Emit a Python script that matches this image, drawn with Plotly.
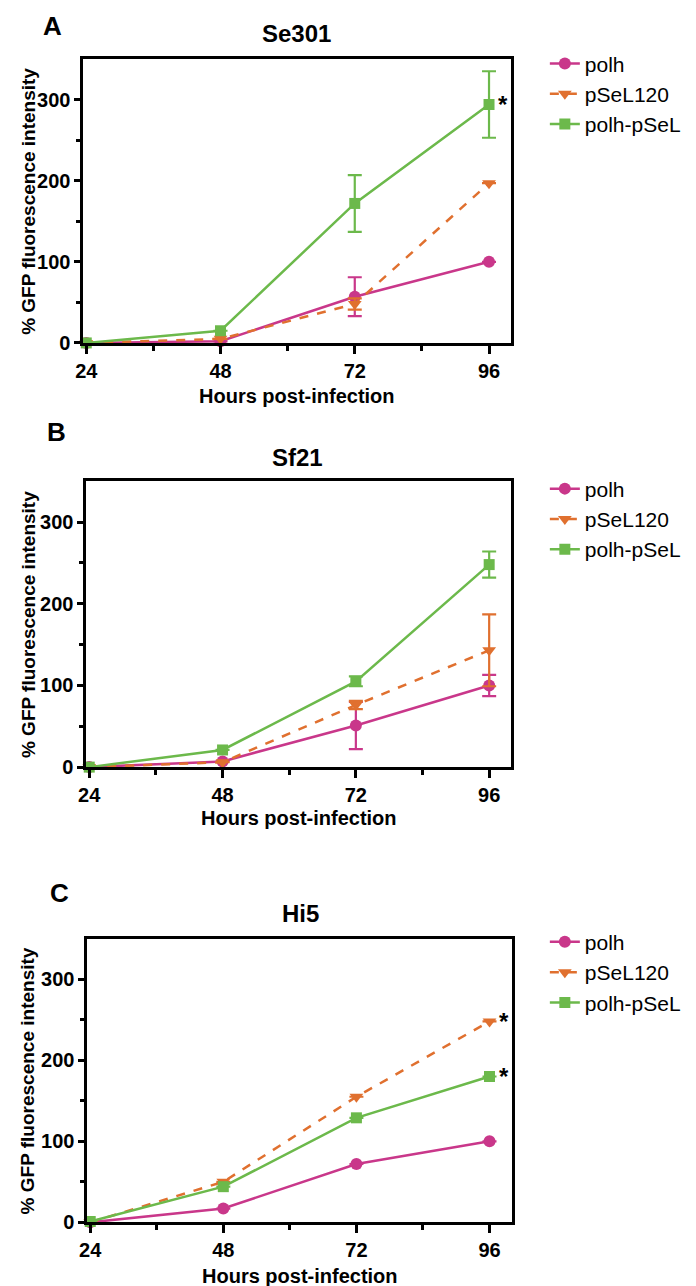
import plotly.graph_objects as go

hours = [24, 48, 72, 96]
series = ['polh', 'pSeL120', 'polh-pSeL']

# panel A - Se301
se301_polh = [0, 2, 57, 100]
se301_polh_err = [0, 0, 24, 0]
se301_psel = [0, 5, 48, 197]
se301_psel_err = [0, 0, 7, 0]
se301_polhpsel = [0, 15, 172, 294]
se301_polhpsel_err = [0, 0, 35, 41]

# panel B - Sf21
sf21_polh = [0, 7, 51, 100]
sf21_polh_err = [0, 0, 29, 13]
sf21_psel = [0, 6, 76, 143]
sf21_psel_err = [0, 0, 5, 44]
sf21_polhpsel = [0, 21, 105, 248]
sf21_polhpsel_err = [0, 0, 6, 16]

# panel C - Hi5
hi5_polh = [0, 17, 72, 100]
hi5_psel = [0, 50, 155, 248]
hi5_polhpsel = [1, 44, 129, 180]
hi5_err = [0, 0, 0, 0]

panels = [
    dict(letter='A', title='Se301',
         vals=[se301_polh, se301_psel, se301_polhpsel],
         errs=[se301_polh_err, se301_psel_err, se301_polhpsel_err],
         stars=['polh-pSeL']),
    dict(letter='B', title='Sf21',
         vals=[sf21_polh, sf21_psel, sf21_polhpsel],
         errs=[sf21_polh_err, sf21_psel_err, sf21_polhpsel_err],
         stars=[]),
    dict(letter='C', title='Hi5',
         vals=[hi5_polh, hi5_psel, hi5_polhpsel],
         errs=[hi5_err, hi5_err, hi5_err],
         stars=['pSeL120', 'polh-pSeL']),
]

W, H = 696, 1286
SCALE, OFFX, OFFY = 0.991, 15.5, 8  # how the page ends up in the picture

def px_x(x):
    # picture x -> figure px
    return x / SCALE - OFFX

def px_y(y):
    return y / SCALE - OFFY

def fx(x):
    return px_x(x) / W

def fy(y):
    return 1 - px_y(y) / H

# plot boxes in picture pixels: left, right, top, bottom
boxes = [(83, 512, 59, 342.7), (86, 512, 481, 766.7), (87, 512.3, 938.3, 1221.7)]
letter_pos = [(52, 14), (56, 432), (59, 893)]
title_pos = [(297, 33), (298, 457), (301, 913)]
xtitle_y = [396, 818, 1275]
legend_row1 = [65, 490, 943]

colors = ['#C9378A', '#E0702F', '#6CB94B']
symbols = ['circle', 'triangle-down', 'square']
msizes = [12, 12, 11]
dashes = ['solid', 'dash', 'solid']

font = 'Arial, Liberation Sans, sans-serif'

fig = go.Figure()

for p, panel in enumerate(panels):
    n = '' if p == 0 else str(p + 1)
    xa, ya = 'x' + n, 'y' + n
    leg = 'legend' + n
    for s in range(3):
        fig.add_trace(go.Scatter(
            x=hours, y=panel['vals'][s], name=series[s],
            xaxis=xa, yaxis=ya, legend=leg,
            mode='lines+markers', cliponaxis=False,
            line=dict(color=colors[s], width=2.5, dash=dashes[s]),
            marker=dict(color=colors[s], symbol=symbols[s], size=msizes[s]),
            error_y=dict(type='data', array=panel['errs'][s], visible=True,
                         color=colors[s], thickness=2.2, width=7),
        ))
        if series[s] in panel['stars']:
            fig.add_annotation(x=hours[-1], y=panel['vals'][s][-1], xref=xa, yref=ya,
                               text='<b>*</b>', showarrow=False, xshift=14, yshift=0,
                               xanchor='center', yanchor='middle',
                               font=dict(size=24, color='black', family=font))

    l, r, t, b = boxes[p]
    axis_common = dict(showline=True, linecolor='black', linewidth=3, mirror=True,
                       ticks='outside', tickcolor='black', tickwidth=2.5,
                       showgrid=False, zeroline=False,
                       tickfont=dict(size=20, family=font, color='black', weight='bold'))
    fig.layout['xaxis' + n] = dict(
        axis_common, domain=[fx(l), fx(r)], anchor=ya, range=[23.5, 100],
        tickvals=hours, ticklen=8,
        minor=dict(tickvals=[36, 60, 84], ticklen=5, tickwidth=2.5, tickcolor='black', ticks='outside'),
    )
    fig.layout['yaxis' + n] = dict(
        axis_common, domain=[fy(b), fy(t)], anchor=xa, range=[0, 350],
        tickvals=[0, 100, 200, 300], ticklen=6,
        minor=dict(tickvals=[50, 150, 250], ticklen=4, tickwidth=2.5, tickcolor='black', ticks='outside'),
    )

    fig.layout[leg] = dict(x=535 / W, y=1 - (px_y(legend_row1[p]) - 22) / H,
                           xanchor='left', yanchor='top',
                           bgcolor='rgba(0,0,0,0)', font=dict(size=21, family=font, color='black'),
                           itemclick=False, tracegroupgap=0)

    # keep the panel letter fully inside the figure
    fig.add_annotation(x=fx(letter_pos[p][0]), y=min(fy(letter_pos[p][1]), 1 - 18 / H),
                       xref='paper', yref='paper',
                       text='<b>' + panel['letter'] + '</b>', showarrow=False,
                       xanchor='center', yanchor='middle',
                       font=dict(size=26, family=font, color='black'))
    fig.add_annotation(x=fx(title_pos[p][0]), y=fy(title_pos[p][1]), xref='paper', yref='paper',
                       text='<b>' + panel['title'] + '</b>', showarrow=False,
                       xanchor='center', yanchor='middle',
                       font=dict(size=24, family=font, color='black'))
    fig.add_annotation(x=fx((l + r) / 2), y=fy(xtitle_y[p]), xref='paper', yref='paper',
                       text='<b>Hours post-infection</b>', showarrow=False,
                       xanchor='center', yanchor='middle',
                       font=dict(size=20, family=font, color='black'))
    fig.add_annotation(x=12 / W, y=fy((t + b) / 2), xref='paper', yref='paper',
                       text='<b>% GFP fluorescence intensity</b>', showarrow=False, textangle=-90,
                       xanchor='center', yanchor='middle',
                       font=dict(size=19, family=font, color='black'))

fig.update_layout(
    width=W, height=H,
    margin=dict(t=0, l=0, r=0, b=0),
    plot_bgcolor='white', paper_bgcolor='white',
    showlegend=True,
)

fig.write_html('out.html')
